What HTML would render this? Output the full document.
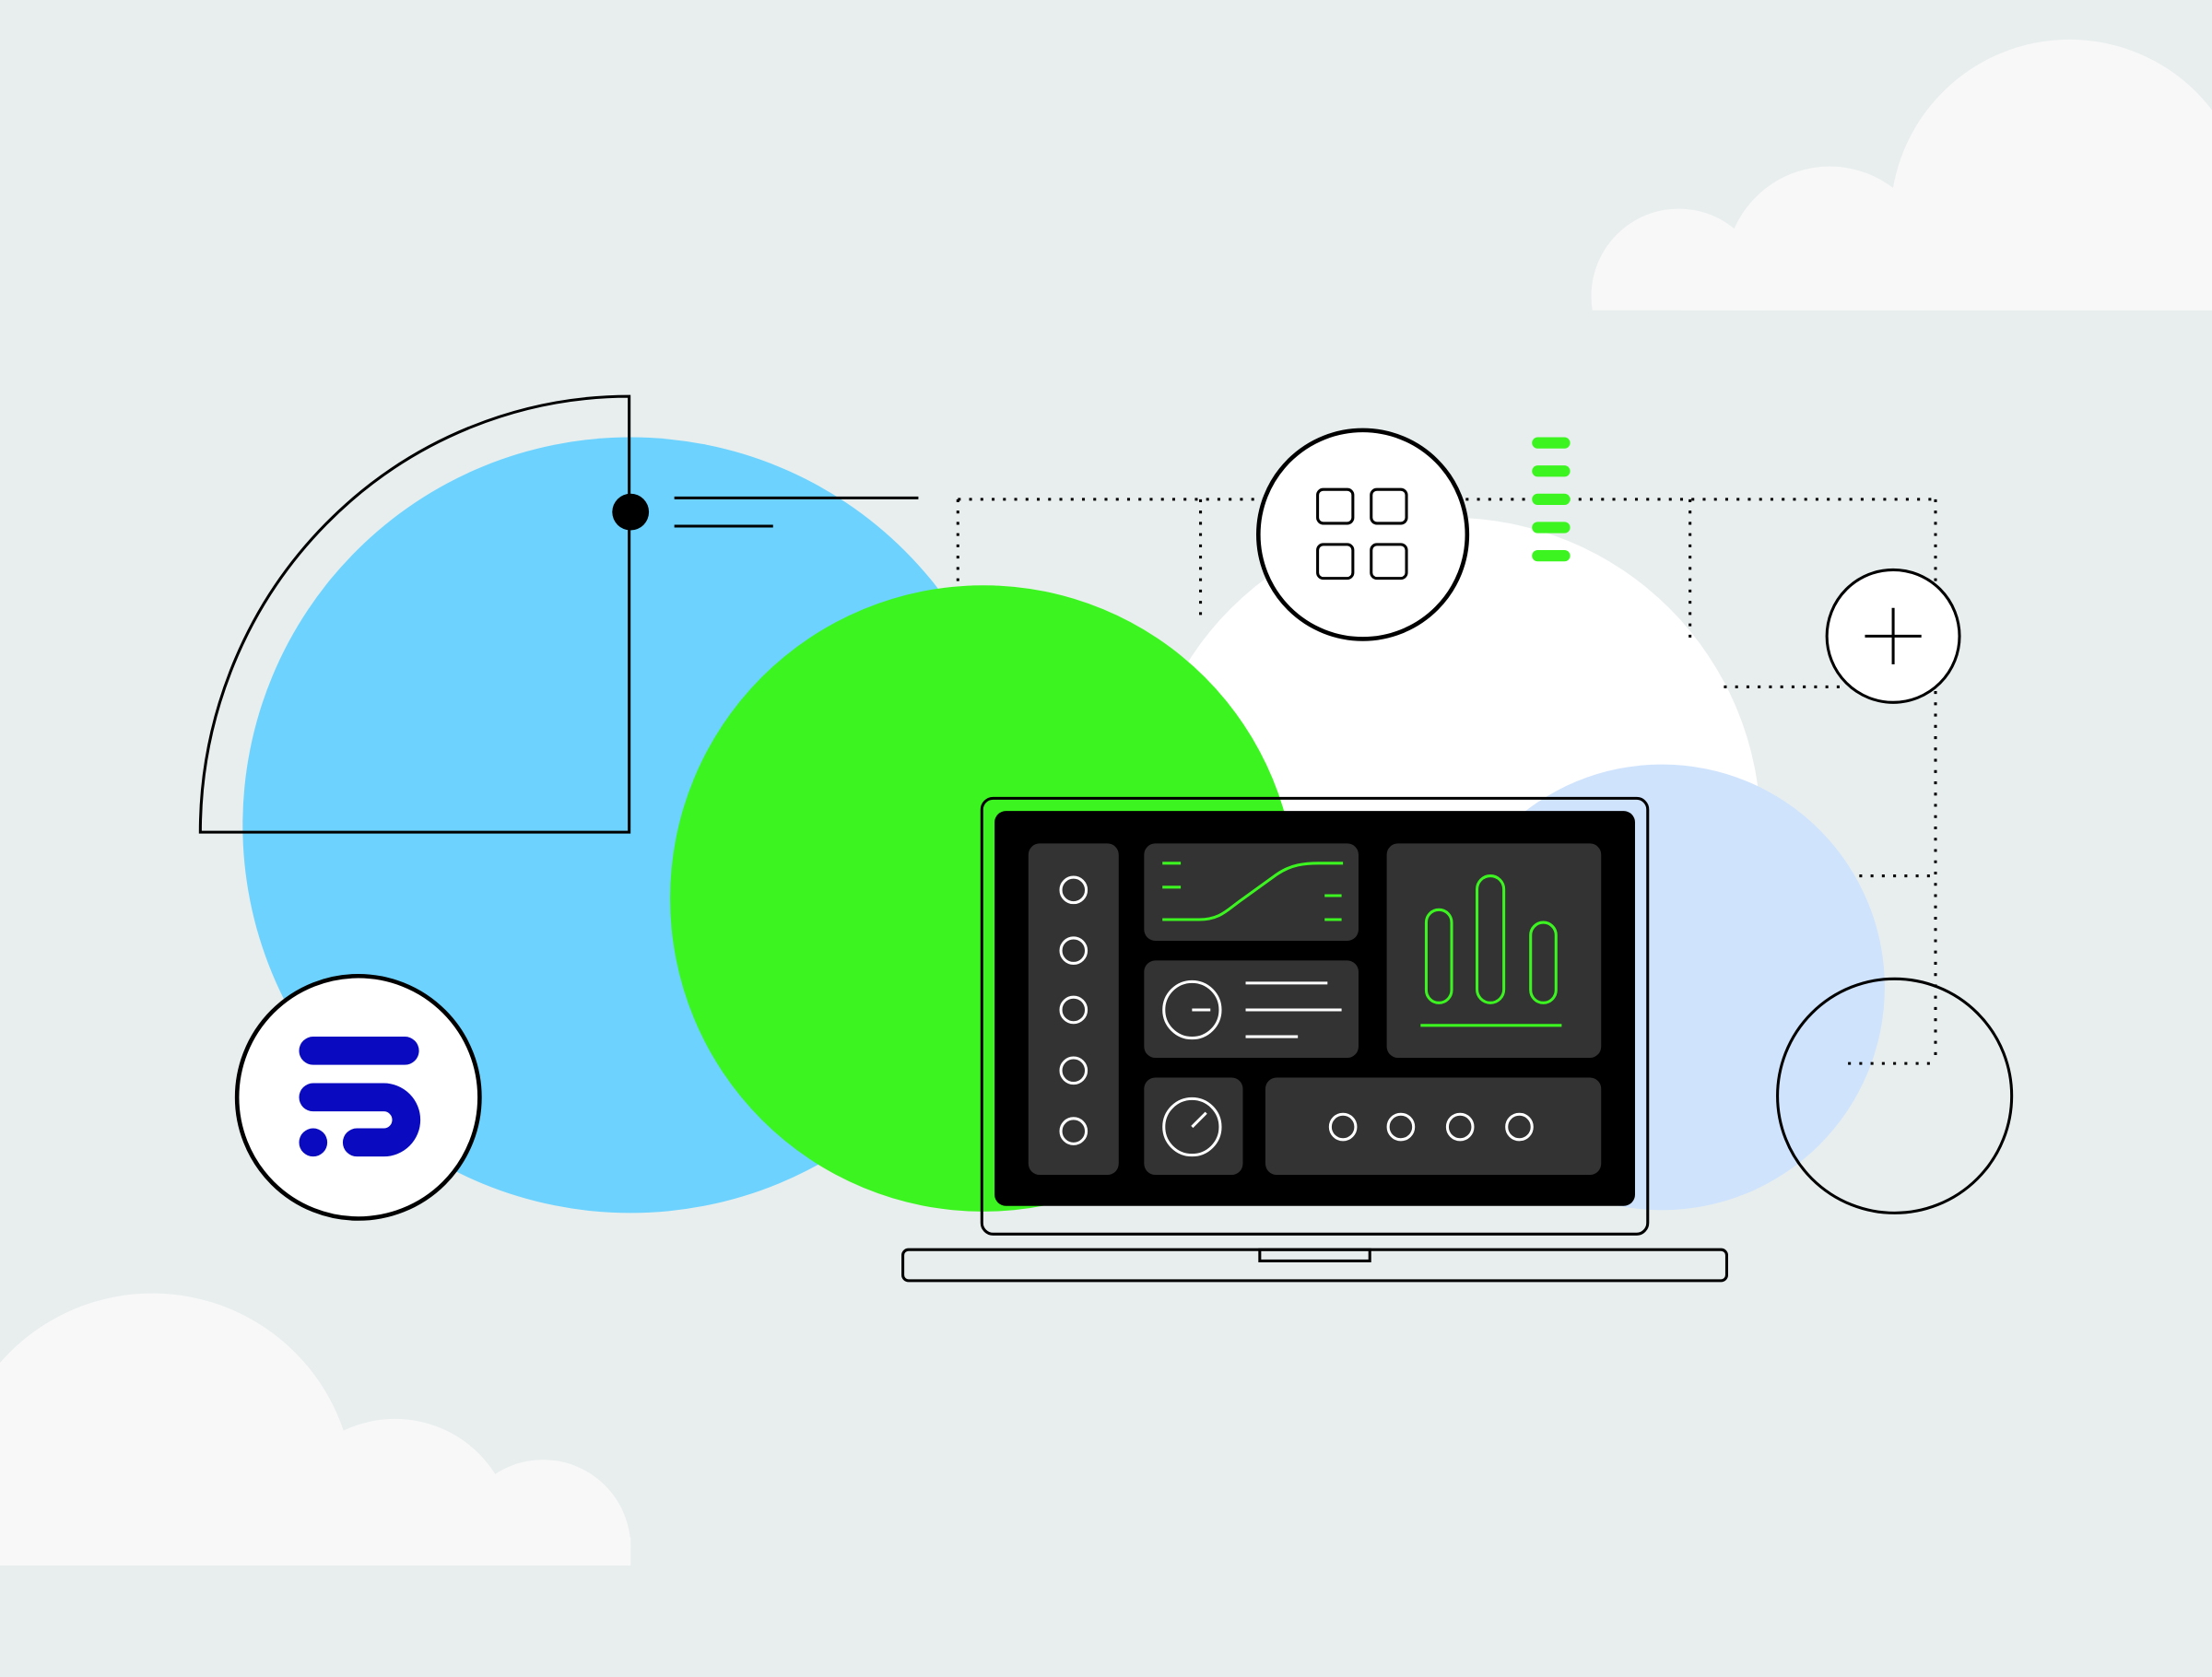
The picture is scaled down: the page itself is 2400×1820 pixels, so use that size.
<!DOCTYPE html>
<html><head><meta charset="utf-8"><style>
html,body{margin:0;padding:0;background:#e8eeee;}
svg{display:block;}
</style></head><body>
<svg width="2400" height="1820" viewBox="0 0 1568 1189" xmlns="http://www.w3.org/2000/svg">
<defs>
<clipPath id="c1"><rect x="0" y="0" width="1568" height="220"/></clipPath>
<clipPath id="c2"><rect x="0" y="0" width="1568" height="1110"/></clipPath>
</defs>
<rect width="1568" height="1189" fill="#e8eeee"/>
<g fill="#f8f8f8" clip-path="url(#c1)">
<circle cx="1467" cy="155" r="127"/>
<circle cx="1297" cy="192" r="74"/>
<circle cx="1190" cy="210" r="62"/>
<rect x="1190" y="180" width="378" height="40"/>
</g>
<g fill="#f8f8f8" clip-path="url(#c2)">
<circle cx="108" cy="1060" r="143"/>
<circle cx="280" cy="1090" r="84"/>
<circle cx="385" cy="1097" r="62"/>
<rect x="0" y="1090" width="447" height="20"/>
</g>
<circle cx="447" cy="585" r="275" fill="#6dd3fe"/>
<circle cx="1028" cy="587" r="220" fill="#ffffff"/>
<circle cx="1178" cy="700" r="158" fill="#cfe3fd"/>
<circle cx="697" cy="637" r="222" fill="#3cf520"/>
<path d="M142,590 H446 V281 A304,309 0 0 0 142,590 Z" fill="none" stroke="#000" stroke-width="2"/>
<circle cx="447" cy="363" r="13" fill="#000"/>
<line x1="478" y1="353" x2="651" y2="353" stroke="#000" stroke-width="2"/>
<line x1="478" y1="373" x2="548" y2="373" stroke="#000" stroke-width="2"/>
<g stroke="#000" stroke-width="2" stroke-dasharray="2 6" fill="none">
<line x1="679" y1="354" x2="1372" y2="354"/>
<line x1="679" y1="354" x2="679" y2="415"/>
<line x1="851" y1="354" x2="851" y2="440"/>
<line x1="1198" y1="354" x2="1198" y2="452"/>
<line x1="1372" y1="354" x2="1372" y2="754"/>
<line x1="1222" y1="487" x2="1310" y2="487"/>
<line x1="1318" y1="621" x2="1372" y2="621"/>
<line x1="1310" y1="754" x2="1372" y2="754"/>
</g>
<circle cx="966" cy="379" r="74" fill="#fff" stroke="#000" stroke-width="3"/>
<g fill="none" stroke="#000" stroke-width="2">
<rect x="934" y="347" width="25" height="24" rx="4"/>
<rect x="972" y="347" width="25" height="24" rx="4"/>
<rect x="934" y="386" width="25" height="24" rx="4"/>
<rect x="972" y="386" width="25" height="24" rx="4"/>
</g>
<g stroke="#3cf520" stroke-width="8" stroke-linecap="round">
<line x1="1090" y1="314" x2="1109" y2="314"/>
<line x1="1090" y1="334" x2="1109" y2="334"/>
<line x1="1090" y1="354" x2="1109" y2="354"/>
<line x1="1090" y1="374" x2="1109" y2="374"/>
<line x1="1090" y1="394" x2="1109" y2="394"/>
</g>
<circle cx="1342" cy="451" r="47" fill="#fff" stroke="#000" stroke-width="2"/>
<line x1="1322" y1="451" x2="1362" y2="451" stroke="#000" stroke-width="2"/>
<line x1="1342" y1="431" x2="1342" y2="471" stroke="#000" stroke-width="2"/>
<circle cx="1343" cy="777" r="83" fill="none" stroke="#000" stroke-width="2"/>
<circle cx="254" cy="778" r="86" fill="#fff" stroke="#000" stroke-width="3"/>
<g stroke="#0a0ac0" stroke-width="20" stroke-linecap="round" fill="none">
<path d="M222,745 H287"/>
<path d="M222,778 H272 A16,16 0 0 1 272,810 H253"/>
</g>
<circle cx="222" cy="810" r="10" fill="#0a0ac0"/>
<rect x="696" y="566" width="472" height="309" rx="8" fill="none" stroke="#000" stroke-width="2"/>
<rect x="705" y="575" width="454" height="280" rx="8" fill="#000"/>
<rect x="640" y="886" width="584" height="22" rx="4" fill="none" stroke="#000" stroke-width="2"/>
<rect x="893" y="886" width="78" height="8" fill="none" stroke="#000" stroke-width="2"/>
<g fill="#333">
<rect x="729" y="598" width="64" height="235" rx="8"/>
<rect x="811" y="598" width="152" height="69" rx="8"/>
<rect x="811" y="681" width="152" height="69" rx="8"/>
<rect x="811" y="764" width="70" height="69" rx="8"/>
<rect x="983" y="598" width="152" height="152" rx="8"/>
<rect x="897" y="764" width="238" height="69" rx="8"/>
</g>
<g fill="none" stroke="#fff" stroke-width="2">
<circle cx="761" cy="631" r="9"/><circle cx="761" cy="674" r="9"/><circle cx="761" cy="716" r="9"/><circle cx="761" cy="759" r="9"/><circle cx="761" cy="802" r="9"/>
<circle cx="845" cy="716" r="20"/><line x1="845" y1="716" x2="858" y2="716"/>
<line x1="883" y1="697" x2="941" y2="697"/><line x1="883" y1="716" x2="951" y2="716"/><line x1="883" y1="735" x2="920" y2="735"/>
<circle cx="845" cy="799" r="20"/><line x1="845" y1="799" x2="855" y2="789"/>
<circle cx="952" cy="799" r="9"/><circle cx="993" cy="799" r="9"/><circle cx="1035" cy="799" r="9"/><circle cx="1077" cy="799" r="9"/>
</g>
<g fill="none" stroke="#3cf520" stroke-width="2">
<line x1="824" y1="612" x2="837" y2="612"/><line x1="824" y1="629" x2="837" y2="629"/>
<line x1="939" y1="635" x2="951" y2="635"/><line x1="939" y1="652" x2="951" y2="652"/>
<path d="M824,652 H850 C865,652 870,645 880,638 L905,620 C915,613 925,612 935,612 H952"/>
<rect x="1011" y="645" width="18" height="66" rx="9"/>
<rect x="1047" y="621" width="19" height="90" rx="9.5"/>
<rect x="1085" y="654" width="18" height="57" rx="9"/>
<line x1="1007" y1="727" x2="1107" y2="727"/>
</g>
</svg>
</body></html>
